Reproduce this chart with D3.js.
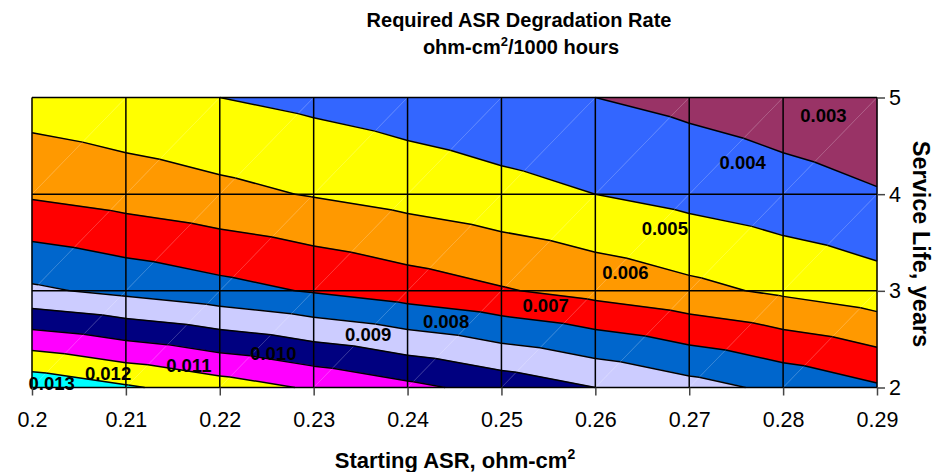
<!DOCTYPE html>
<html>
<head>
<meta charset="utf-8">
<script src="https://cdn.jsdelivr.net/npm/d3@7"></script>
<style>
body { margin: 0; background: #fff; }
svg { display: block; font-family: Arial, "Liberation Sans", sans-serif; }
</style>
</head>
<body>
<svg width="945" height="472"></svg>
<script>
// grid of the surface: starting ASR (x) and service life (y)
const asr = [0.20, 0.21, 0.22, 0.23, 0.24, 0.25, 0.26, 0.27, 0.28, 0.29];
const life = [2, 3, 4, 5];

// required degradation rate at each node, one row per service life
const rate2 = [0.01375, 0.013125, 0.0125, 0.011875, 0.01125, 0.010625, 0.01, 0.009375, 0.00875, 0.008125];
const rate3 = [0.009167, 0.00875, 0.008333, 0.007917, 0.0075, 0.007083, 0.006667, 0.00625, 0.005833, 0.005417];
const rate4 = [0.006875, 0.006563, 0.00625, 0.005938, 0.005625, 0.005313, 0.005, 0.004688, 0.004375, 0.004063];
const rate5 = [0.0055, 0.00525, 0.005, 0.00475, 0.0045, 0.00425, 0.004, 0.00375, 0.0035, 0.00325];
const rates = [rate2, rate3, rate4, rate5];

// band edges and band colours (band k runs from levels[k] to levels[k+1])
const levels = [0.003, 0.004, 0.005, 0.006, 0.007, 0.008, 0.009, 0.010, 0.011, 0.012, 0.013, 0.014];
const bandColors = ['#993366', '#3366FF', '#FFFF00', '#FF9900', '#FF0000', '#0066CC',
                    '#CCCCFF', '#000080', '#FF00FF', '#FFFF00', '#00FFFF'];

// in-plot band labels and where they sit (asr, life)
const bandLabels = ['0.003', '0.004', '0.005', '0.006', '0.007', '0.008', '0.009', '0.010', '0.011', '0.012', '0.013'];
const labelAsr  = [0.2843, 0.2757, 0.2674, 0.2632, 0.2547, 0.2441, 0.2358, 0.2257, 0.2167, 0.2081, 0.2021];
const labelLife = [4.813, 4.327, 3.644, 3.189, 2.848, 2.683, 2.551, 2.355, 2.228, 2.148, 2.044];

const svg = d3.select('svg');
const x = d3.scaleLinear().domain([0.2, 0.29]).range([32, 877]);
const y = d3.scaleLinear().domain([2, 5]).range([387.5, 97.5]);

function node(i, j) {
  return { a: asr[i], l: life[j], z: rates[j][i] };
}

// each cell is split along its bottom-left to top-right diagonal
const triangles = [];
for (let i = 0; i < asr.length - 1; i++) {
  for (let j = 0; j < life.length - 1; j++) {
    triangles.push([node(i, j), node(i + 1, j), node(i + 1, j + 1)]);
    triangles.push([node(i, j), node(i + 1, j + 1), node(i, j + 1)]);
  }
}

function lerp(p, q, t) {
  const f = (t - p.z) / (q.z - p.z);
  return { a: p.a + f * (q.a - p.a), l: p.l + f * (q.l - p.l), z: t };
}

function clip(pts, t, above) {
  const out = [];
  for (let k = 0; k < pts.length; k++) {
    const p = pts[k], q = pts[(k + 1) % pts.length];
    const pin = above ? p.z >= t : p.z <= t;
    const qin = above ? q.z >= t : q.z <= t;
    if (pin) out.push(p);
    if (pin !== qin) out.push(lerp(p, q, t));
  }
  return out;
}

const polys = [];
bandColors.forEach(function(c, k) {
  triangles.forEach(function(tri) {
    let p = clip(tri, levels[k], true);
    if (p.length >= 3) p = clip(p, levels[k + 1], false);
    if (p.length >= 3) polys.push({ pts: p, color: c });
  });
});

const segs = [];
levels.forEach(function(t) {
  triangles.forEach(function(tri) {
    const hits = [];
    for (let k = 0; k < 3; k++) {
      const p = tri[k], q = tri[(k + 1) % 3];
      if ((p.z > t) !== (q.z > t)) hits.push(lerp(p, q, t));
    }
    if (hits.length === 2) segs.push(hits);
  });
});

const line = d3.line()
  .x(function(d) { return x(d.a); })
  .y(function(d) { return y(d.l); });

const plot = svg.append('g');

plot.selectAll('path.band').data(polys).enter()
  .append('path')
  .classed('band', true)
  .attr('d', function(d) { return line(d.pts) + 'Z'; })
  .attr('fill', function(d) { return d.color; })
  .attr('stroke', function(d) { return d.color; })
  .attr('stroke-width', 0.6);

// faint triangulation diagonals
const diags = [];
for (let i = 0; i < asr.length - 1; i++) {
  for (let j = 0; j < life.length - 1; j++) {
    diags.push([{ a: asr[i], l: life[j] }, { a: asr[i + 1], l: life[j + 1] }]);
  }
}
plot.selectAll('path.diag').data(diags).enter()
  .append('path')
  .classed('diag', true)
  .attr('d', line)
  .attr('stroke', '#fff')
  .attr('stroke-opacity', 0.3)
  .attr('stroke-width', 0.6)
  .attr('fill', 'none');

plot.selectAll('path.contour').data(segs).enter()
  .append('path')
  .classed('contour', true)
  .attr('d', line)
  .attr('stroke', '#000')
  .attr('stroke-width', 1.5)
  .attr('fill', 'none');

// grid
plot.selectAll('line.vgrid').data(asr).enter()
  .append('line')
  .classed('vgrid', true)
  .attr('x1', function(d) { return x(d); })
  .attr('x2', function(d) { return x(d); })
  .attr('y1', y(2))
  .attr('y2', y(5))
  .attr('stroke', '#000')
  .attr('stroke-width', 1.5);

plot.selectAll('line.hgrid').data(life).enter()
  .append('line')
  .classed('hgrid', true)
  .attr('x1', x(0.2))
  .attr('x2', x(0.29))
  .attr('y1', function(d) { return y(d); })
  .attr('y2', function(d) { return y(d); })
  .attr('stroke', '#000')
  .attr('stroke-width', 1.5);

// band labels
plot.selectAll('text.lbl').data(bandLabels).enter()
  .append('text')
  .classed('lbl', true)
  .attr('x', function(d, i) { return x(labelAsr[i]); })
  .attr('y', function(d, i) { return y(labelLife[i]); })
  .attr('dy', '0.35em')
  .attr('text-anchor', 'middle')
  .attr('font-size', 18.5)
  .attr('font-weight', 'bold')
  .attr('fill', '#000')
  .text(function(d) { return d; });

// axes
const xAxis = svg.append('g')
  .attr('transform', 'translate(0,' + y(2) + ')')
  .call(d3.axisBottom(x).tickValues(asr).tickSize(8).tickPadding(16).tickFormat(d3.format('')));
const yAxis = svg.append('g')
  .attr('transform', 'translate(' + x(0.29) + ',0)')
  .call(d3.axisRight(y).tickValues(life).tickSize(8).tickPadding(4).tickFormat(d3.format('d')));

[xAxis, yAxis].forEach(function(ax) {
  ax.select('.domain').remove();
  ax.selectAll('line').attr('stroke', '#444').attr('stroke-width', 1.5);
  ax.selectAll('text')
    .attr('font-size', 21.5)
    .attr('font-family', 'Arial, "Liberation Sans", sans-serif')
    .attr('fill', '#000');
});

// titles
const title = svg.append('text')
  .attr('x', 519)
  .attr('y', 27)
  .attr('text-anchor', 'middle')
  .attr('font-size', 20)
  .attr('font-weight', 'bold');
title.append('tspan').text('Required ASR Degradation Rate');

const title2 = svg.append('text')
  .attr('x', 521)
  .attr('y', 54)
  .attr('text-anchor', 'middle')
  .attr('font-size', 20)
  .attr('font-weight', 'bold');
title2.append('tspan').text('ohm-cm');
title2.append('tspan').attr('font-size', 13).attr('dy', -8).text('2');
title2.append('tspan').attr('dy', 8).text('/1000 hours');

const xTitle = svg.append('text')
  .attr('x', 455)
  .attr('y', 468)
  .attr('text-anchor', 'middle')
  .attr('font-size', 22)
  .attr('font-weight', 'bold');
xTitle.append('tspan').text('Starting ASR, ohm-cm');
xTitle.append('tspan').attr('font-size', 14).attr('dy', -9).text('2');

svg.append('text')
  .attr('transform', 'translate(913,244) rotate(90)')
  .attr('text-anchor', 'middle')
  .attr('font-size', 23.5)
  .attr('font-weight', 'bold')
  .text('Service Life, years');
</script>
</body>
</html>
